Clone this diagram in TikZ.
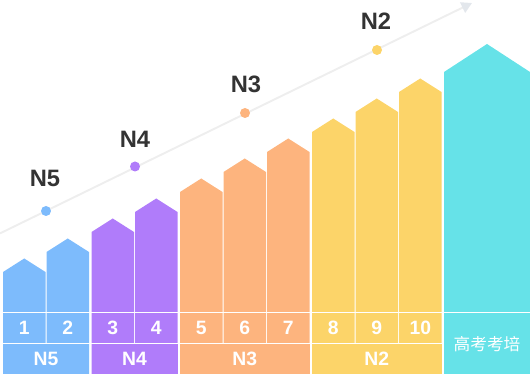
\documentclass[tikz,border=0pt]{standalone}
\usepackage{fontspec}
\setmainfont{Liberation Sans}
\newfontfamily\cjkfont{Noto Sans CJK SC}
\usetikzlibrary{arrows.meta}

\definecolor{lvblue}{HTML}{7DBBFC}
\definecolor{lvpurple}{HTML}{B07CFA}
\definecolor{lvorange}{HTML}{FDB47E}
\definecolor{lvyellow}{HTML}{FCD469}
\definecolor{lvcyan}{HTML}{66E2E8}
\definecolor{lvtext}{HTML}{333333}
\definecolor{lvline}{HTML}{EEEEEE}
\definecolor{lvtip}{HTML}{E3E7EC}

\newcommand*{\barw}{42.5}
\newcommand*{\roof}{13.5}
\newcommand*{\rowtop}{312.5}
\newcommand*{\rowmid}{343.3}
\newcommand*{\ybot}{374}

\begin{document}
\begin{tikzpicture}
[
	dot/.style={circle,fill,inner sep=0pt,minimum size=0.2cm},
	toplbl/.style={text=lvtext,inner sep=0pt,font=\fontsize{13.5}{16}\selectfont\bfseries},
	numlbl/.style={text=white,inner sep=0pt,font=\fontsize{11}{13}\selectfont\bfseries},
	x=0.02cm,y=-0.02cm
]

	\useasboundingbox (0,0) rectangle (530,\ybot);

	% trend line
	\coordinate (start) at (0,233.4);
	\coordinate (tip) at (472,3);
	\draw[lvline,line width=1.1pt,-{Triangle[length=6pt,width=6.5pt,color=lvtip]}] (start) -- (tip);

	% level bars
	\foreach \i/\xl/\col in {1/3/lvblue,2/46.5/lvblue,3/91.5/lvpurple,4/135/lvpurple,5/180/lvorange,6/223.5/lvorange,7/267/lvorange,8/312/lvyellow,9/355.5/lvyellow,10/399/lvyellow}
	{
		\pgfmathsetmacro{\ys}{292-20*\i}
		\fill[\col] (\xl,\ybot) -- (\xl,\ys) -- (\xl+\barw/2,\ys-\roof) -- (\xl+\barw,\ys) -- (\xl+\barw,\ybot) -- cycle;
		\node[numlbl] (n\i) at (\xl+\barw/2,328) {\i};
	}

	% group cells
	\foreach \g/\xa/\xb/\col in {N5/3/89/lvblue,N4/91.5/177.5/lvpurple,N3/180/309.5/lvorange,N2/312/441.5/lvyellow}
	{
		\fill[\col] (\xa,\rowmid) rectangle (\xb,\ybot);
		\node[numlbl] (g\g) at ({(\xa+\xb)/2},358.6) {\g};
	}

	% last bar
	\fill[lvcyan] (444,\ybot) -- (444,72) -- (487,44) -- (530,72) -- (530,\ybot) -- cycle;
	\node[text=white,font=\cjkfont\fontsize{9.5}{11}\selectfont] (gk) at (487,344) {高考考培};

	\draw[white,line width=0.6pt] (0,\rowtop) -- (530,\rowtop);
	\draw[white,line width=0.6pt] (0,\rowmid) -- (442,\rowmid);

	% level marks
	\node[dot,lvblue] (d5) at (46,211) {};
	\node[dot,lvpurple] (d4) at (135,166.5) {};
	\node[dot,lvorange] (d3) at (245,113) {};
	\node[dot,lvyellow] (d2) at (377,50) {};

	\node[toplbl] (l5) at (45,178) {N5};
	\node[toplbl] (l4) at (135,139.3) {N4};
	\node[toplbl] (l3) at (246,84.3) {N3};
	\node[toplbl] (l2) at (376,21) {N2};

\end{tikzpicture}
\end{document}
